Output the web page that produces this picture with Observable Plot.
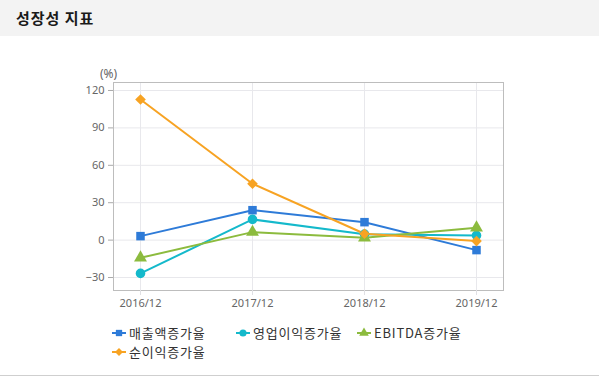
<!DOCTYPE html>
<html>
<head>
<meta charset="utf-8">
<script src="https://cdn.jsdelivr.net/npm/d3@7"></script>
<script src="https://cdn.jsdelivr.net/npm/@observablehq/plot@0.6"></script>
<style>
  html, body { margin: 0; padding: 0; background: #fff; }
  body { font-family: "Noto Sans CJK KR", "Noto Sans", sans-serif; }
  #wrap { width: 599px; height: 375px; border-bottom: 1px solid #cfcfcf; position: relative; overflow: hidden; }
  #header { height: 36px; background: #f3f3f3; line-height: 36px; padding-left: 16px; font-size: 15px; font-weight: bold; color: #1a1a1a; letter-spacing: 1px; }
  #chart svg { display: block; }
  #legend { padding-left: 112px; padding-top: 7px; font-size: 13px; letter-spacing: 0.8px; color: #333; line-height: 19px; }
  .row { height: 19px; display: flex; align-items: center; }
  .item { display: inline-flex; align-items: center; height: 19px; }
  .item svg { margin-right: 3px; }
  .lbl { display: inline-block; height: 19px; line-height: 19px; }
</style>
</head>
<body>
<div id="wrap">
  <div id="header">성장성 지표</div>
  <div id="chart"></div>
  <div id="legend"></div>
</div>
<script>
const periods = ["2016/12", "2017/12", "2018/12", "2019/12"];
const seriesNames = ["매출액증가율", "영업이익증가율", "EBITDA증가율", "순이익증가율"];
const salesGrowth = [3.2, 24.0, 14.4, -8.0];
const opIncomeGrowth = [-26.7, 16.6, 4.8, 3.8];
const ebitdaGrowth = [-14.2, 6.4, 1.9, 9.9];
const netIncomeGrowth = [112.8, 45.2, 5.1, -0.8];
const yTicks = [-30, 0, 30, 60, 90, 120];
const colors = ["#2e7bd8", "#14b9cb", "#8cbb3e", "#f7a323"];
const symbols = ["square", "circle", "triangle", "diamond2"];

const seriesValues = [salesGrowth, opIncomeGrowth, ebitdaGrowth, netIncomeGrowth];
const data = [];
seriesNames.forEach((name, i) => {
  periods.forEach((p, j) => data.push({series: name, period: p, value: seriesValues[i][j]}));
});

const chart = Plot.plot({
  width: 599,
  height: 280,
  marginLeft: 113,
  marginRight: 96,
  marginTop: 46,
  marginBottom: 26,
  style: {fontFamily: "'Noto Sans', 'DejaVu Sans', sans-serif", fontSize: "11px", background: "#fff"},
  x: {type: "point", domain: periods, padding: 0.233},
  y: {domain: [-40.4, 126.4]},
  color: {domain: seriesNames, range: colors},
  symbol: {domain: seriesNames, range: symbols},
  marks: [
    Plot.gridY(yTicks, {stroke: "#e8e8ec", strokeOpacity: 1}),
    Plot.gridX(periods, {stroke: "#e8e8ec", strokeOpacity: 1}),
    Plot.frame({stroke: "#bdbdbd"}),
    Plot.axisY(yTicks, {tickSize: 5, tickPadding: 4, stroke: "#aaa", fill: "#666", label: null}),
    Plot.axisX(periods, {tickSize: 5, tickPadding: 4, stroke: "#e0e0e4", fill: "#666", label: null}),
    Plot.text(["(%)"], {frameAnchor: "top-left", dx: -5, dy: -13, text: d => d, fill: "#666", fontSize: 12, textAnchor: "middle"}),
    Plot.line(data, {x: "period", y: "value", z: "series", stroke: "series", strokeWidth: 2}),
    Plot.dot(data, {x: "period", y: "value", fill: "series", symbol: "series", r: 4.8, stroke: null})
  ]
});
document.getElementById("chart").appendChild(chart);

// Legend
const legend = document.getElementById("legend");
const rows = [[0, 1, 2], [3]];
const itemWidths = [124, 121, 150];
const symGen = {square: d3.symbolSquare, circle: d3.symbolCircle, triangle: d3.symbolTriangle, diamond2: d3.symbolDiamond2};
rows.forEach(r => {
  const row = document.createElement("div");
  row.className = "row";
  r.forEach((i, k) => {
    const item = document.createElement("span");
    item.className = "item";
    item.style.width = itemWidths[k] + "px";
    const ns = "http://www.w3.org/2000/svg";
    const s = document.createElementNS(ns, "svg");
    s.setAttribute("width", 14); s.setAttribute("height", 12);
    const ln = document.createElementNS(ns, "line");
    ln.setAttribute("x1", 0); ln.setAttribute("x2", 14); ln.setAttribute("y1", 6); ln.setAttribute("y2", 6);
    ln.setAttribute("stroke", colors[i]); ln.setAttribute("stroke-width", 2);
    s.appendChild(ln);
    const p = document.createElementNS(ns, "path");
    p.setAttribute("d", d3.symbol(symGen[symbols[i]], 40)());
    p.setAttribute("transform", "translate(7,6)");
    p.setAttribute("fill", colors[i]);
    s.appendChild(p);
    item.appendChild(s);
    const t = document.createElement("span");
    t.className = "lbl";
    t.textContent = seriesNames[i];
    item.appendChild(t);
    row.appendChild(item);
  });
  legend.appendChild(row);
});
</script>
</body>
</html>
